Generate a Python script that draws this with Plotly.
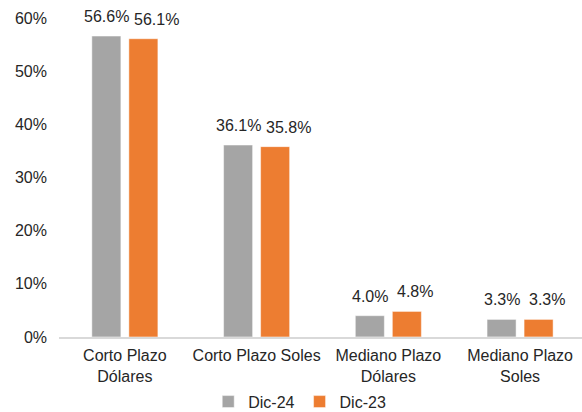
import plotly.graph_objects as go

categories = ["Corto Plazo<br>Dólares", "Corto Plazo Soles", "Mediano Plazo<br>Dólares", "Mediano Plazo<br>Soles"]
series_names = ["Dic-24", "Dic-23"]
dic24 = [56.6, 36.1, 4.0, 3.3]
dic23 = [56.1, 35.8, 4.8, 3.3]
y_ticks = [0, 10, 20, 30, 40, 50, 60]

colors = ["#A5A5A5", "#ED7D31"]
FONT = "Liberation Sans, Arial, sans-serif"
TXT = "#262626"
FS = 16
FS_LBL = 16

fig = go.Figure()
for name, vals, col in zip(series_names, [dic24, dic23], colors):
    fig.add_trace(go.Bar(
        x=categories, y=vals, name=name,
        marker=dict(color=col, line=dict(color="rgba(255,255,255,0.6)", width=0.8)),
        hoverinfo="skip",
    ))

annotations = []
for j, cat in enumerate(categories):
    annotations.append(dict(x=cat, y=dic24[j], xref="x", yref="y", text=f"{dic24[j]:.1f}%",
                            showarrow=False, xanchor="center", yanchor="middle",
                            xshift=-18.5, yshift=19.5, font=dict(family=FONT, size=FS_LBL, color=TXT)))
    annotations.append(dict(x=cat, y=dic23[j], xref="x", yref="y", text=f"{dic23[j]:.1f}%",
                            showarrow=False, xanchor="left", yanchor="middle",
                            xshift=7, yshift=19.5, font=dict(family=FONT, size=FS_LBL, color=TXT)))

fig.update_layout(
    width=582, height=412,
    margin=dict(l=59, r=0, t=18, b=72),
    paper_bgcolor="white", plot_bgcolor="white",
    barmode="group", bargap=0.438, bargroupgap=0.216,
    font=dict(family=FONT, size=FS, color=TXT),
    showlegend=True,
    legend=dict(orientation="h", xref="container", yref="container", x=0.515, y=0.025,
                xanchor="center", yanchor="middle", font=dict(family=FONT, size=FS, color=TXT),
                itemwidth=30, traceorder="normal"),
    annotations=annotations,
)
fig.update_xaxes(range=[-0.5, 3.47], showline=True, linecolor="#D9D9D9", linewidth=1.5,
                 ticks="", showgrid=False, ticklabelstandoff=3,
                 tickfont=dict(family=FONT, size=FS, color=TXT))
fig.update_yaxes(range=[0, 60], tickvals=y_ticks, ticktext=[f"{v}%" for v in y_ticks],
                 showgrid=False, zeroline=False, showline=False, ticks="",
                 ticklabelstandoff=11, tickfont=dict(family=FONT, size=FS, color=TXT))

fig.write_html("out.html")
